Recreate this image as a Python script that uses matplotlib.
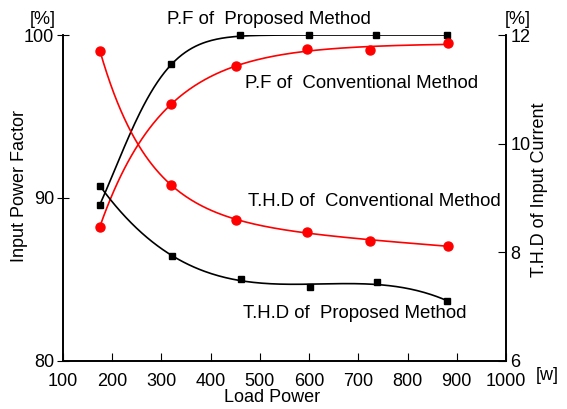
import matplotlib.pyplot as plt
import numpy as np

plt.rcParams['font.family'] = ['Liberation Sans', 'DejaVu Sans']

# load power [W]
load_pf_prop = [175, 320, 460, 600, 735, 880]
pf_prop = [89.6, 98.2, 100.0, 100.0, 100.0, 100.0]

load_pf_conv = [175, 320, 452, 596, 724, 883]
pf_conv = [88.25, 95.75, 98.1, 99.15, 99.1, 99.5]

load_thd_conv = [175, 320, 452, 596, 724, 883]
thd_conv = [11.71, 9.24, 8.6, 8.37, 8.21, 8.12]

load_thd_prop = [175, 322, 462, 602, 737, 880]
thd_prop = [9.22, 7.94, 7.5, 7.36, 7.45, 7.1]


def fit_curve(x, y, xs, kind):
    # least squares trend line, nonlinear params by grid search
    x = np.asarray(x, float)
    y = np.asarray(y, float)
    w = np.ones_like(x)
    w[0] = 5.0  # curves start on the first marker
    top = y.max() if kind == 's' else 0.0  # P.F saturates at 100 %

    def basis(t, k, m):
        if kind == 's':
            return np.column_stack([np.exp(-k * t - m * t ** 2)])
        return np.column_stack([np.ones_like(t), np.exp(-k * t), t])

    best = None
    ks = np.linspace(0.0005, 0.03, 120)
    ms = np.linspace(0, 4e-5, 30) if kind == 's' else [0.0]
    for k in ks:
        for m in ms:
            M = basis(x - x[0], k, m)
            coef, *_ = np.linalg.lstsq(M * w[:, None], (y - top) * w, rcond=None)
            err = np.sum((w * (M @ coef - (y - top))) ** 2)
            if best is None or err < best[0]:
                best = (err, k, m, coef)
    _, k, m, coef = best
    return top + basis(xs - x[0], k, m) @ coef


fig = plt.figure(figsize=(5.67, 4.09), dpi=100)
ax = fig.add_axes([0.1111, 0.1174, 0.7813, 0.797])
ax2 = ax.twinx()

xs1 = np.linspace(load_pf_prop[0], load_pf_prop[-1], 200)
ax.plot(xs1, fit_curve(load_pf_prop, pf_prop, xs1, 's'), color='black', lw=1.2)
ax.plot(load_pf_prop, pf_prop, 's', color='black', ms=5, clip_on=False)

xs2 = np.linspace(load_pf_conv[0], load_pf_conv[-1], 200)
ax.plot(xs2, fit_curve(load_pf_conv, pf_conv, xs2, 'e'), color='red', lw=1.2)
ax.plot(load_pf_conv, pf_conv, 'o', color='red', ms=6.5, clip_on=False)

xs3 = np.linspace(load_thd_conv[0], load_thd_conv[-1], 200)
ax2.plot(xs3, fit_curve(load_thd_conv, thd_conv, xs3, 'e'), color='red', lw=1.2)
ax2.plot(load_thd_conv, thd_conv, 'o', color='red', ms=6.5)

xs4 = np.linspace(load_thd_prop[0], load_thd_prop[-1], 200)
p = np.polyfit(load_thd_prop, thd_prop, 3)
ax2.plot(xs4, np.polyval(p, xs4), color='black', lw=1.2)
ax2.plot(load_thd_prop, thd_prop, 's', color='black', ms=5)

ax.set_xlim(100, 1000)
ax.set_ylim(80, 100)
ax2.set_ylim(6, 12)
ax.set_xticks(range(100, 1001, 100))
ax.set_yticks([80, 90, 100])
ax2.set_yticks([6, 8, 10, 12])

for a in (ax, ax2):
    a.spines['top'].set_visible(False)
    a.spines[:].set_linewidth(1.2)
ax.tick_params(axis='x', direction='in', length=6, labelsize=13, pad=9)
ax.tick_params(axis='y', direction='inout', length=9, labelsize=13, pad=2)
ax2.tick_params(axis='y', direction='in', length=6, labelsize=13, pad=3)

W, H = 567, 409
def ftext(x, y, s, size=13, **kw):
    fig.text(x / W, 1 - y / H, s, fontsize=size, **kw)

ftext(167, 19, 'P.F of  Proposed Method', 13.4, va='center')
ftext(245, 84, 'P.F of  Conventional Method', 13.4, va='center')
ftext(248, 202, 'T.H.D of  Conventional Method', 13.4, va='center')
ftext(243, 313, 'T.H.D of  Proposed Method', 13.4, va='center')
ftext(43, 20, '[%]', ha='center', va='center')
ftext(518, 20, '[%]', ha='center', va='center')
ftext(547, 375, '[w]', ha='center', va='center')
ftext(272, 398, 'Load Power', ha='center', va='center')
ftext(20, 186, 'Input Power Factor', ha='center', va='center', rotation=90)
ftext(540, 190, 'T.H.D of Input Current', ha='center', va='center', rotation=90)

fig.savefig('out.png', dpi=100)
